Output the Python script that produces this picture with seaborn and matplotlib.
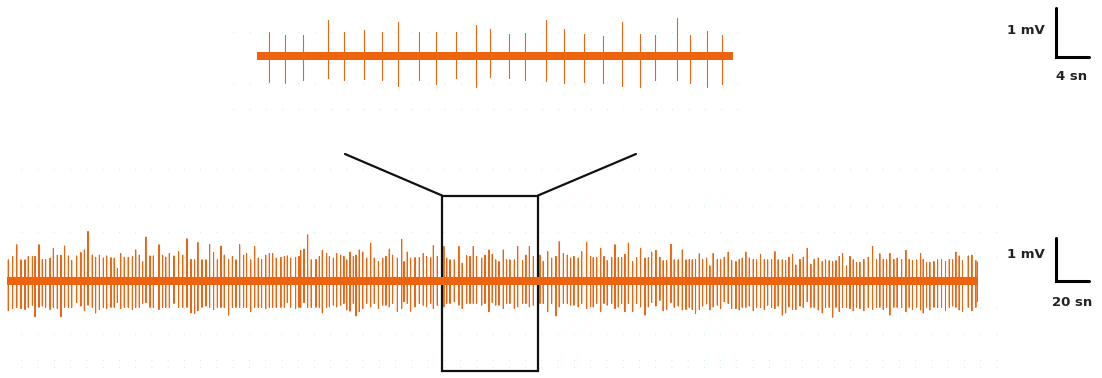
import pandas as pd
import seaborn as sns
import matplotlib.pyplot as plt

# zoomed trace (about 58 s window), spike times in s, peak heights in mV
top_t = [1.5, 3.4, 5.6, 8.6, 10.5, 13.0, 15.2, 17.1, 19.6, 21.7, 24.1, 26.6, 28.2,
         30.5, 32.5, 35.0, 37.2, 39.6, 41.9, 44.3, 46.4, 48.2, 50.9, 52.5, 54.5, 56.4]
top_up = [0.49, 0.44, 0.44, 0.76, 0.49, 0.54, 0.51, 0.71, 0.51, 0.49, 0.49, 0.65, 0.56,
          0.46, 0.47, 0.74, 0.56, 0.46, 0.42, 0.71, 0.46, 0.44, 0.79, 0.44, 0.53, 0.44]
top_down = [0.54, 0.57, 0.50, 0.46, 0.51, 0.48, 0.50, 0.63, 0.50, 0.58, 0.46, 0.64, 0.44,
            0.45, 0.51, 0.52, 0.57, 0.54, 0.57, 0.63, 0.65, 0.50, 0.50, 0.57, 0.64, 0.58]
top_len = 57.7

# full recording (about 590 s)
bot_t = [0.8, 3.4, 5.9, 8.5, 10.9, 12.9, 15.4, 17.0, 19.4, 21.4, 23.4, 26.1, 28.1, 30.5, 32.7,
         34.9, 37.2, 39.2, 42.2, 44.8, 46.9, 49.1, 51.7, 53.7, 56.0, 58.4, 60.4, 63.0, 65.0, 66.9,
         68.9, 71.1, 73.5, 76.0, 78.0, 80.2, 82.2, 84.2, 86.7, 88.7, 92.1, 94.3, 96.2, 98.4, 101.2,
         104.0, 106.5, 109.1, 111.5, 113.7, 115.7, 118.2, 120.6, 122.8, 125.2, 127.5, 129.7, 131.7,
         134.3, 136.6, 138.8, 141.0, 143.4, 145.2, 147.7, 150.1, 152.3, 154.3, 156.8, 159.0, 161.0,
         163.2, 166.0, 168.1, 169.9, 171.9, 174.9, 177.0, 178.0, 180.0, 182.2, 184.4, 187.3, 189.3,
         191.1, 193.7,
         195.4, 197.8, 199.8, 202.2, 204.2, 205.9, 207.9, 209.9, 211.5, 213.5, 215.6, 218.0, 220.4,
         222.6, 225.1, 227.7, 229.7, 231.7, 233.7, 236.6, 239.2, 240.6, 242.6, 244.6, 247.3, 249.9,
         252.3, 254.3, 256.8, 258.4, 260.8, 264.8, 266.5, 268.5, 271.1, 273.9, 275.9, 278.6, 280.6,
         282.6, 284.6, 287.7, 289.7, 292.1, 294.1, 296.2, 298.2, 300.8, 302.8, 304.8, 307.5, 309.5,
         312.5, 314.5, 316.6, 319.0, 323.0, 325.0, 327.7, 330.1, 332.7, 334.7, 337.2, 339.6, 341.6,
         343.6, 346.2, 348.3, 351.3, 353.7, 355.3, 357.4, 359.8, 361.8, 363.8, 366.5, 368.5, 370.5,
         372.5, 374.5, 376.6, 379.2, 381.6, 384.0, 386.7, 388.7,
         390.7, 393.3, 395.7, 397.7, 399.8, 402.4, 404.4, 406.8, 409.3, 411.5, 413.5, 415.3, 417.3,
         419.6, 421.6, 424.0, 426.0, 428.0, 430.5, 432.5, 434.7, 437.1, 439.2, 441.8, 443.8, 445.6,
         447.8, 449.9, 452.3, 454.3, 456.7, 459.0, 461.0, 463.4, 465.4, 467.4, 469.9, 471.9, 473.9,
         476.1, 478.1, 480.6, 482.6, 485.0, 487.2, 489.2, 491.7, 494.1, 496.1, 498.3, 500.4, 502.4,
         504.4, 506.4, 508.8, 510.9, 512.9, 514.9, 516.9, 519.3, 522.0, 524.6, 527.0, 529.0, 531.1,
         533.1, 535.1, 537.5, 539.5, 542.2, 544.8, 546.8, 548.8, 551.3, 553.7, 555.3, 557.3, 559.3,
         561.8, 564.0, 566.4, 568.8, 571.1, 573.1, 575.1, 577.1, 579.1, 582.6, 584.8, 587.2, 588.4]
bot_up = [0.49, 0.57, 0.84, 0.49, 0.49, 0.57, 0.57, 0.57, 0.84, 0.50,
          0.50, 0.53, 0.76, 0.60, 0.60, 0.81, 0.58, 0.47, 0.58, 0.66,
          0.72, 1.15, 0.60, 0.55, 0.60, 0.53, 0.58, 0.54, 0.53, 0.29,
          0.64, 0.55, 0.55, 0.57, 0.72, 0.60, 0.45, 1.02, 0.58, 0.58,
          0.84, 0.60, 0.55, 0.64, 0.58, 0.68, 0.60, 0.98, 0.50, 0.49,
          0.89, 0.49, 0.49, 0.85, 0.66, 0.49, 0.81, 0.60, 0.50, 0.57,
          0.49, 0.84, 0.60, 0.64, 0.49, 0.80, 0.53, 0.50, 0.60, 0.64,
          0.64, 0.53, 0.55, 0.57, 0.58, 0.53, 0.55, 0.57, 0.71, 0.74,
          1.07, 0.49, 0.50, 0.57, 0.71, 0.64,
          0.57, 0.53, 0.64, 0.60, 0.57, 0.49, 0.67, 0.57, 0.60, 0.72,
          0.67, 0.53, 0.88, 0.53, 0.45, 0.53, 0.57, 0.74, 0.60, 0.53,
          0.97, 0.45, 0.67, 0.53, 0.54, 0.54, 0.64, 0.57, 0.54, 0.82,
          0.57, 0.80, 0.53, 0.49, 0.49, 0.80, 0.41, 0.59, 0.57, 0.80,
          0.57, 0.53, 0.60, 0.72, 0.62, 0.49, 0.45, 0.72, 0.49, 0.49,
          0.49, 0.80, 0.47, 0.60, 0.80, 0.57, 0.60, 0.45, 0.68, 0.53,
          0.57, 0.91, 0.64, 0.60, 0.53, 0.57, 0.53, 0.68, 0.90, 0.57,
          0.54, 0.54, 0.76, 0.57, 0.47, 0.54, 0.84, 0.54, 0.54, 0.62,
          0.88, 0.45, 0.54, 0.76, 0.53, 0.54,
          0.67, 0.71, 0.55, 0.47, 0.47, 0.85, 0.49, 0.49, 0.72, 0.49,
          0.50, 0.49, 0.50, 0.63, 0.50, 0.53, 0.35, 0.64, 0.50, 0.50,
          0.55, 0.67, 0.47, 0.45, 0.50, 0.53, 0.67, 0.53, 0.50, 0.49,
          0.62, 0.50, 0.49, 0.50, 0.68, 0.49, 0.49, 0.47, 0.55, 0.62,
          0.37, 0.50, 0.55, 0.76, 0.39, 0.50, 0.53, 0.45, 0.49, 0.47,
          0.45, 0.47, 0.57, 0.64, 0.35, 0.57, 0.49, 0.43, 0.43, 0.50,
          0.55, 0.80, 0.50, 0.63, 0.50, 0.49, 0.64, 0.50, 0.53, 0.50,
          0.71, 0.50, 0.47, 0.49, 0.64, 0.50, 0.43, 0.43, 0.45, 0.49,
          0.49, 0.45, 0.50, 0.49, 0.67, 0.58, 0.47, 0.58, 0.60, 0.47,
          0.44]
bot_down = [0.69, 0.64, 0.61, 0.64, 0.66, 0.61, 0.56, 0.83, 0.61, 0.58,
            0.61, 0.66, 0.61, 0.64, 0.83, 0.61, 0.61, 0.61, 0.50, 0.58,
            0.69, 0.56, 0.61, 0.74, 0.66, 0.61, 0.64, 0.61, 0.61, 0.50,
            0.64, 0.61, 0.61, 0.66, 0.61, 0.61, 0.52, 0.50, 0.61, 0.61,
            0.66, 0.61, 0.61, 0.61, 0.52, 0.61, 0.61, 0.61, 0.74, 0.75,
            0.69, 0.61, 0.58, 0.61, 0.66, 0.61, 0.61, 0.61, 0.79, 0.61,
            0.61, 0.61, 0.61, 0.61, 0.71, 0.61, 0.61, 0.61, 0.64, 0.61,
            0.61, 0.61, 0.61, 0.61, 0.50, 0.61, 0.64, 0.61, 0.61, 0.50,
            0.61, 0.61, 0.61, 0.61, 0.74, 0.61,
            0.60, 0.56, 0.60, 0.56, 0.52, 0.67, 0.70, 0.52, 0.81, 0.71,
            0.64, 0.52, 0.60, 0.52, 0.64, 0.56, 0.56, 0.60, 0.52, 0.71,
            0.64, 0.48, 0.52, 0.70, 0.60, 0.52, 0.56, 0.60, 0.52, 0.64,
            0.56, 0.60, 0.52, 0.52, 0.48, 0.56, 0.64, 0.52, 0.52, 0.52,
            0.52, 0.56, 0.52, 0.71, 0.50, 0.56, 0.56, 0.64, 0.52, 0.52,
            0.64, 0.60, 0.52, 0.52, 0.60, 0.56, 0.52, 0.52, 0.71, 0.52,
            0.81, 0.60, 0.52, 0.52, 0.56, 0.56, 0.60, 0.52, 0.64, 0.60,
            0.60, 0.52, 0.71, 0.52, 0.56, 0.52, 0.64, 0.60, 0.52, 0.71,
            0.52, 0.71, 0.52, 0.60, 0.79, 0.60,
            0.50, 0.58, 0.45, 0.69, 0.66, 0.50, 0.61, 0.58, 0.67, 0.66,
            0.61, 0.66, 0.75, 0.66, 0.58, 0.53, 0.67, 0.60, 0.56, 0.64,
            0.48, 0.52, 0.64, 0.64, 0.67, 0.61, 0.61, 0.58, 0.69, 0.61,
            0.61, 0.66, 0.56, 0.61, 0.64, 0.58, 0.79, 0.74, 0.60, 0.66,
            0.66, 0.58, 0.61, 0.48, 0.61, 0.61, 0.67, 0.74, 0.61, 0.61,
            0.84, 0.61, 0.71, 0.61, 0.61, 0.64, 0.69, 0.61, 0.64, 0.69,
            0.61, 0.66, 0.61, 0.61, 0.66, 0.61, 0.79, 0.61, 0.61, 0.61,
            0.71, 0.61, 0.66, 0.61, 0.67, 0.74, 0.61, 0.67, 0.61, 0.61,
            0.61, 0.69, 0.61, 0.58, 0.61, 0.67, 0.71, 0.61, 0.69, 0.61,
            0.48]
bot_len = 588.8

noise_mv = 0.085      # half-width of the baseline noise
zoom_start = 263.6    # where the top window sits in the full trace (s)

orange = '#EC6410'


def trace_frame(t, up, down, length):
    rows = [(0.0, 0.0)]
    for ti, u, d in zip(t, up, down):
        rows += [(ti, 0.0), (ti, u), (ti, -d), (ti, 0.0)]
    rows.append((length, 0.0))
    return pd.DataFrame(rows, columns=['t', 'mV'])


sns.set_style('white')
fig = plt.figure(figsize=(11.02, 3.78), dpi=100)

# background axes in pixel units for the decorations
bg = fig.add_axes([0, 0, 1, 1])
bg.set_xlim(0, 1102)
bg.set_ylim(378, 0)
bg.axis('off')

dots = dict(colors='#b8f4f4', linewidth=1.0, linestyles=[(0, (0.6, 11.1))])
bg.hlines([32, 83, 109], 233, 740, **dots)
bg.hlines([169, 206, 232, 257, 308, 334, 360, 367], 21, 1000, **dots)

ax_top = fig.add_axes([257 / 1102, 266 / 378, 476 / 1102, 112 / 378])
ax_bot = fig.add_axes([7 / 1102, 37 / 378, 971.5 / 1102, 120 / 378])

top_df = trace_frame(top_t, top_up, top_down, top_len)
bot_df = trace_frame(bot_t, bot_up, bot_down, bot_len)

for ax, df, length in [(ax_top, top_df, top_len), (ax_bot, bot_df, bot_len)]:
    ax.fill_between([0, length], -noise_mv, noise_mv, color=orange, lw=0)
    sns.lineplot(data=df, x='t', y='mV', sort=False, estimator=None,
                 color=orange, lw=0.75, ax=ax)
    ax.set_xlim(0, length)
    ax.axis('off')
    ax.patch.set_alpha(0)

ax_top.set_ylim(-56 / 48, 56 / 48)
ax_bot.set_ylim(-60 / 43, 60 / 43)

# scale bars (1 mV / 4 s and 1 mV / 20 s)
ax_top.plot([96.8, 96.8, 100.8], [1, -0.02, -0.02], color='black', lw=2.2,
            clip_on=False, solid_joinstyle='miter')
ax_bot.plot([635.7, 635.7, 655.7], [1, 0, 0], color='black', lw=2.2,
            clip_on=False, solid_joinstyle='miter')

txt = dict(fontsize=9.5, fontweight='bold', color='#222222', va='center')
bg.text(1045, 31, '1 mV', ha='right', **txt)
bg.text(1072, 76, '4 sn', ha='center', **txt)
bg.text(1045, 255, '1 mV', ha='right', **txt)
bg.text(1072, 303, '20 sn', ha='center', **txt)

# zoom box and connecting lines
zl = dict(color='#111111', lw=1.6, solid_joinstyle='miter')
box_l = 442
box_r = 538
bg.plot([box_l, box_r, box_r, box_l, box_l], [195.5, 195.5, 371, 371, 195.5], **zl)
bg.plot([345, box_l], [154, 195.5], **zl)
bg.plot([636, box_r], [154, 195.5], **zl)

plt.savefig('out.png', dpi=100)
